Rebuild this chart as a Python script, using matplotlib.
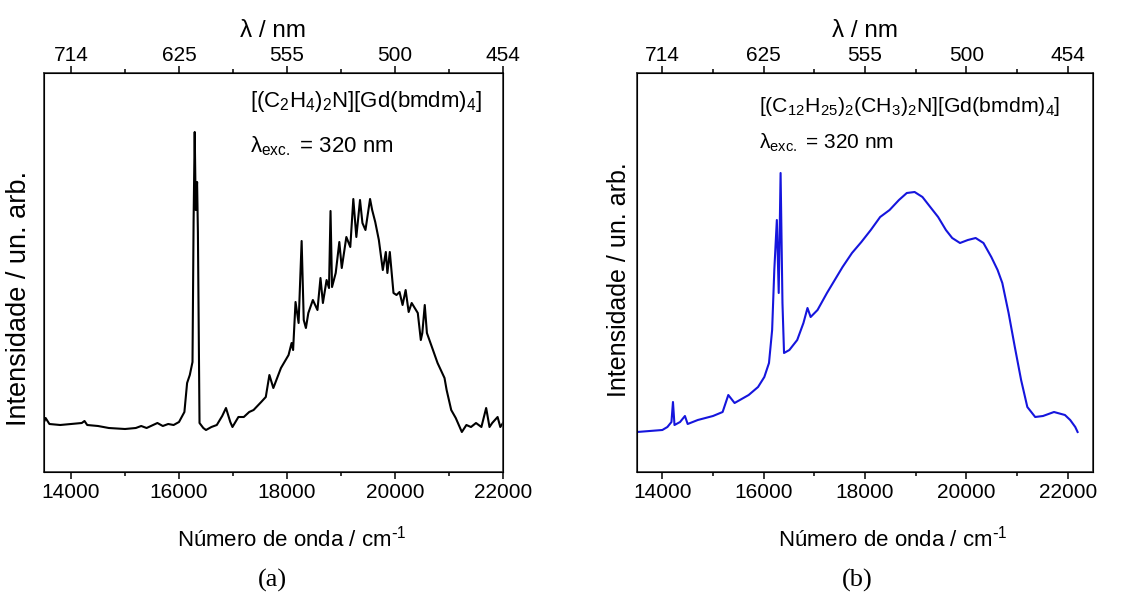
import matplotlib
matplotlib.use('Agg')
import matplotlib.pyplot as plt
import numpy as np

plt.rcParams['font.family'] = ['Liberation Sans', 'DejaVu Sans']
plt.rcParams['mathtext.default'] = 'regular'

# spectrum (a): wavenumber / cm-1 and intensity (arb. units)
wn_a = [13500, 13530, 13600, 13800, 14000, 14200, 14250, 14300, 14500, 14700,
        15000, 15200, 15300, 15400, 15600, 15700, 15800, 15900, 16000, 16100,
        16150, 16200, 16250, 16270, 16291, 16310, 16335, 16350, 16380, 16450,
        16500, 16600, 16700, 16800, 16870, 16950, 16990, 17100, 17200, 17300,
        17381, 17522, 17607, 17674, 17747, 17888, 18029, 18085, 18113, 18158,
        18215, 18271, 18310, 18350, 18395, 18479, 18564, 18620, 18665, 18733,
        18778, 18806, 18834, 18902, 18969, 19014, 19099, 19172, 19228, 19284,
        19352, 19397, 19453, 19538, 19577, 19634, 19701, 19774, 19830, 19859,
        19904, 19972, 20028, 20084, 20140, 20197, 20253, 20309, 20422, 20478,
        20506, 20551, 20591, 20703, 20788, 20917, 20956, 21041, 21125, 21238,
        21322, 21407, 21500, 21600, 21688, 21750, 21800, 21900, 21950, 22000]
int_a = [50, 54, 48, 47, 48, 49, 51, 47, 46, 44,
         43, 44, 46, 44, 49, 46, 48, 47, 50, 60,
         89, 97, 110, 250, 340, 262, 290, 240, 49, 44,
         42, 45, 47, 56, 64, 50, 45, 55, 55, 60,
         62, 70, 75, 97, 84, 104, 117, 129, 122, 170,
         149, 231, 152, 144, 159, 172, 162, 194, 169, 192,
         184, 261, 185, 199, 230, 204, 235, 225, 273, 235,
         272, 249, 242, 273, 262, 250, 232, 202, 220, 199,
         220, 179, 177, 180, 167, 182, 160, 169, 159, 132,
         139, 167, 139, 122, 109, 94, 82, 62, 54, 40,
         47, 45, 49, 45, 64, 45, 49, 55, 45, 49]

# spectrum (b)
wn_b = [13500, 14000, 14100, 14180, 14210, 14240, 14350, 14446, 14500, 14700,
        15000, 15190, 15302, 15426, 15704, 15889, 16013, 16105, 16167, 16210,
        16260, 16297, 16334, 16371, 16402, 16507, 16662, 16785, 16865, 16927,
        17063, 17249, 17403, 17557, 17743, 17928, 18114, 18299, 18485, 18670,
        18825, 18979, 19134, 19288, 19443, 19597, 19721, 19875, 20030, 20184,
        20338, 20493, 20617, 20710, 20834, 20957, 21081, 21204, 21359, 21513,
        21730, 21946, 22050, 22150, 22196]
int_b = [40, 42, 45, 50, 70, 47, 50, 56, 48, 52,
         56, 60, 77, 69, 77, 85, 95, 109, 142, 202,
         252, 179, 299, 169, 119, 122, 132, 149, 164, 155,
         162, 179, 192, 205, 219, 230, 242, 255, 262, 272,
         279, 280, 275, 265, 255, 242, 234, 229, 232, 234,
         229, 215, 202, 189, 159, 125, 92, 65, 55, 56,
         60, 57, 52, 45, 40]

top_ticks = [14000, 16000, 18000, 20000, 22000]

fig = plt.figure(figsize=(11.44, 5.98), dpi=100)


def panel(rect, wn, y, color, xmax, lines, letter, lx, ylab_size, ylab_xy, xlab_x):
    ax = fig.add_axes(rect)
    ax.plot(wn, y, color=color, lw=1.5)
    ax.set_xlim(13500, xmax)
    ax.set_ylim(0, 399)
    ax.set_yticks([])
    ax.set_xticks(top_ticks)
    ax.set_xticks(np.arange(15000, 22000, 2000), minor=True)
    ax.tick_params(axis='x', labelsize=15, length=5, width=1.1, pad=3)
    ax.tick_params(axis='x', which='minor', length=3, width=1.1)
    ax.set_xlabel('Número de onda / cm$^{\\text{-}1}$', fontsize=16)
    ax.xaxis.set_label_coords(xlab_x, -0.135)
    ax.set_ylabel('Intensidade / un. arb.', fontsize=ylab_size)
    ax.yaxis.set_label_coords(*ylab_xy)
    for s in ax.spines.values():
        s.set_linewidth(1.2)
        s.set_color('#333333')

    top = ax.twiny()
    top.set_xlim(ax.get_xlim())
    top.set_xticks(top_ticks)
    top.set_xticklabels([str(int(1e7 / t)) for t in top_ticks])
    top.set_xticks(np.arange(15000, 22000, 2000), minor=True)
    top.tick_params(axis='x', labelsize=15, length=5, width=1.1, pad=1)
    top.tick_params(axis='x', which='minor', length=3, width=1.1)
    top.set_xlabel('λ / nm', fontsize=17.5, labelpad=6)

    for x, yy, s, fs in lines:
        ax.text(x, yy, s, transform=ax.transAxes, fontsize=fs, va='baseline')
    fig.text(lx, 0.029, letter, ha='center', va='center', fontsize=19,
             family='Liberation Serif')
    return ax


panel([44 / 1144, 126 / 598, 459 / 1144, 399 / 598], wn_a, int_a, 'black', 22000,
      [(0.449, 0.916, '[(C$_2$H$_4$)$_2$N][Gd(bmdm)$_4$]', 16),
       (0.449, 0.800, 'λ$_{exc.}$ = 320 nm', 16)],
      '(a)', 272 / 1144, 19.5, (-0.026, 0.436), 0.54)

panel([637 / 1144, 126 / 598, 456 / 1144, 399 / 598], wn_b, int_b, '#1515dd', 22500,
      [(0.267, 0.903, '[(C$_{12}$H$_{25}$)$_2$(CH$_3$)$_2$N][Gd(bmdm)$_4$]', 15.3),
       (0.267, 0.810, 'λ$_{exc.}$ = 320 nm', 15)],
      '(b)', 857 / 1144, 18, (-0.013, 0.481), 0.56)

fig.savefig('out.png', dpi=100)
